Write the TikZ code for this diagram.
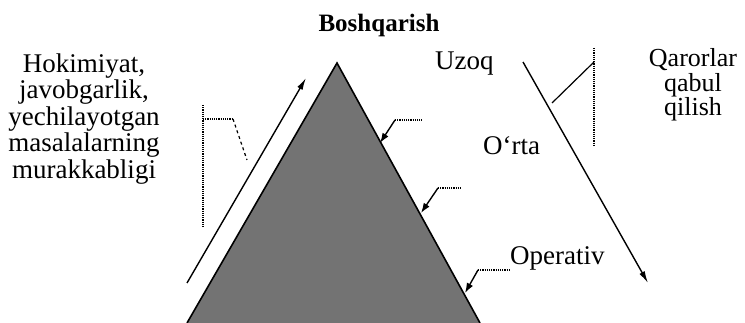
\documentclass[tikz,border=0pt]{standalone}
\usepackage{fontspec}
\setmainfont{Liberation Serif}
\usetikzlibrary{arrows.meta}

\begin{document}
\begin{tikzpicture}[
      x=1pt, y=-1pt,
      font=\fontsize{27}{26.5}\selectfont,
      lbl/.style={inner sep=0pt, align=center},
      arr/.style={-{Latex[length=12pt, width=6pt]}, line width=1.4pt},
      ptr/.style={-{Latex[length=10pt, width=7pt]}, line width=1.4pt},
      dots/.style={densely dotted, line width=1.2pt},
    ]
    \useasboundingbox (0,0) rectangle (745,323);

    % the pyramid (runs off the bottom edge)
    \coordinate (apex) at (337,63);
    \coordinate (baseL) at (187,323);
    \coordinate (baseR) at (480,323);
    \fill[black!55] (apex) -- (baseL) -- (baseR) -- cycle;
    \draw[line width=1.6pt] (baseL) -- (apex) -- (baseR);

    % labels
    \node[lbl, anchor=base, font=\fontsize{25}{26}\selectfont\bfseries]
      (bosh) at (379,32) {Boshqarish};
    \node[lbl, anchor=base west] (uzoq) at (435,70) {Uzoq};
    \node[lbl, anchor=base west] (orta) at (483,155) {O‘rta};
    \node[lbl, anchor=base west] (oper) at (510,265) {Operativ};
    \node[lbl, font=\fontsize{26}{24.5}\selectfont] (qaror) at (693,85)
      {Qarorlar\\ qabul\\ qilish};
    \node[lbl] (hokim) at (84,119) {Hokimiyat,\\ javobgarlik,\\
      yechilayotgan\\ masalalarning\\ murakkabligi};

    % long arrows
    \coordinate (lA) at (187,283);
    \coordinate (lB) at (306,78);
    \coordinate (rA) at (523,62);
    \coordinate (rB) at (648,283);
    \draw[arr] (lA) -- (lB);
    \draw[arr] (rA) -- (rB);

    % left bracket
    \coordinate (lbT) at (203,105);
    \coordinate (lbB) at (203,227);
    \coordinate (lbK) at (203,119);
    \coordinate (lbC) at (233,119);
    \coordinate (lbE) at (247,160);
    \draw[dots] (lbT) -- (lbB);
    \draw[dots] (lbK) -- (lbC);
    \draw[dashed, line width=1.2pt] (lbC) -- (lbE);

    % right bracket
    \coordinate (rbT) at (594,48);
    \coordinate (rbB) at (594,145);
    \coordinate (rbK) at (594,62);
    \coordinate (rbE) at (552,103);
    \draw[dots] (rbT) -- (rbB);
    \draw[line width=1.2pt] (rbK) -- (rbE);

    % pointers onto the pyramid edge
    \coordinate (p1) at (395,120);  \coordinate (p1e) at (422,120);
    \coordinate (p1t) at (380,143);
    \coordinate (p2) at (438,188);  \coordinate (p2e) at (462,188);
    \coordinate (p2t) at (421,213);
    \coordinate (p3) at (478,270);
    \coordinate (p3t) at (465,293);
    \foreach \i in {1,2}
      \draw[dots] (p\i) -- (p\i e);
    \draw[dots] (p3) -- (p3 -| oper.west);
    \foreach \i in {1,2,3}
      \draw[ptr] (p\i) -- (p\i t);
  \end{tikzpicture}
\end{document}
